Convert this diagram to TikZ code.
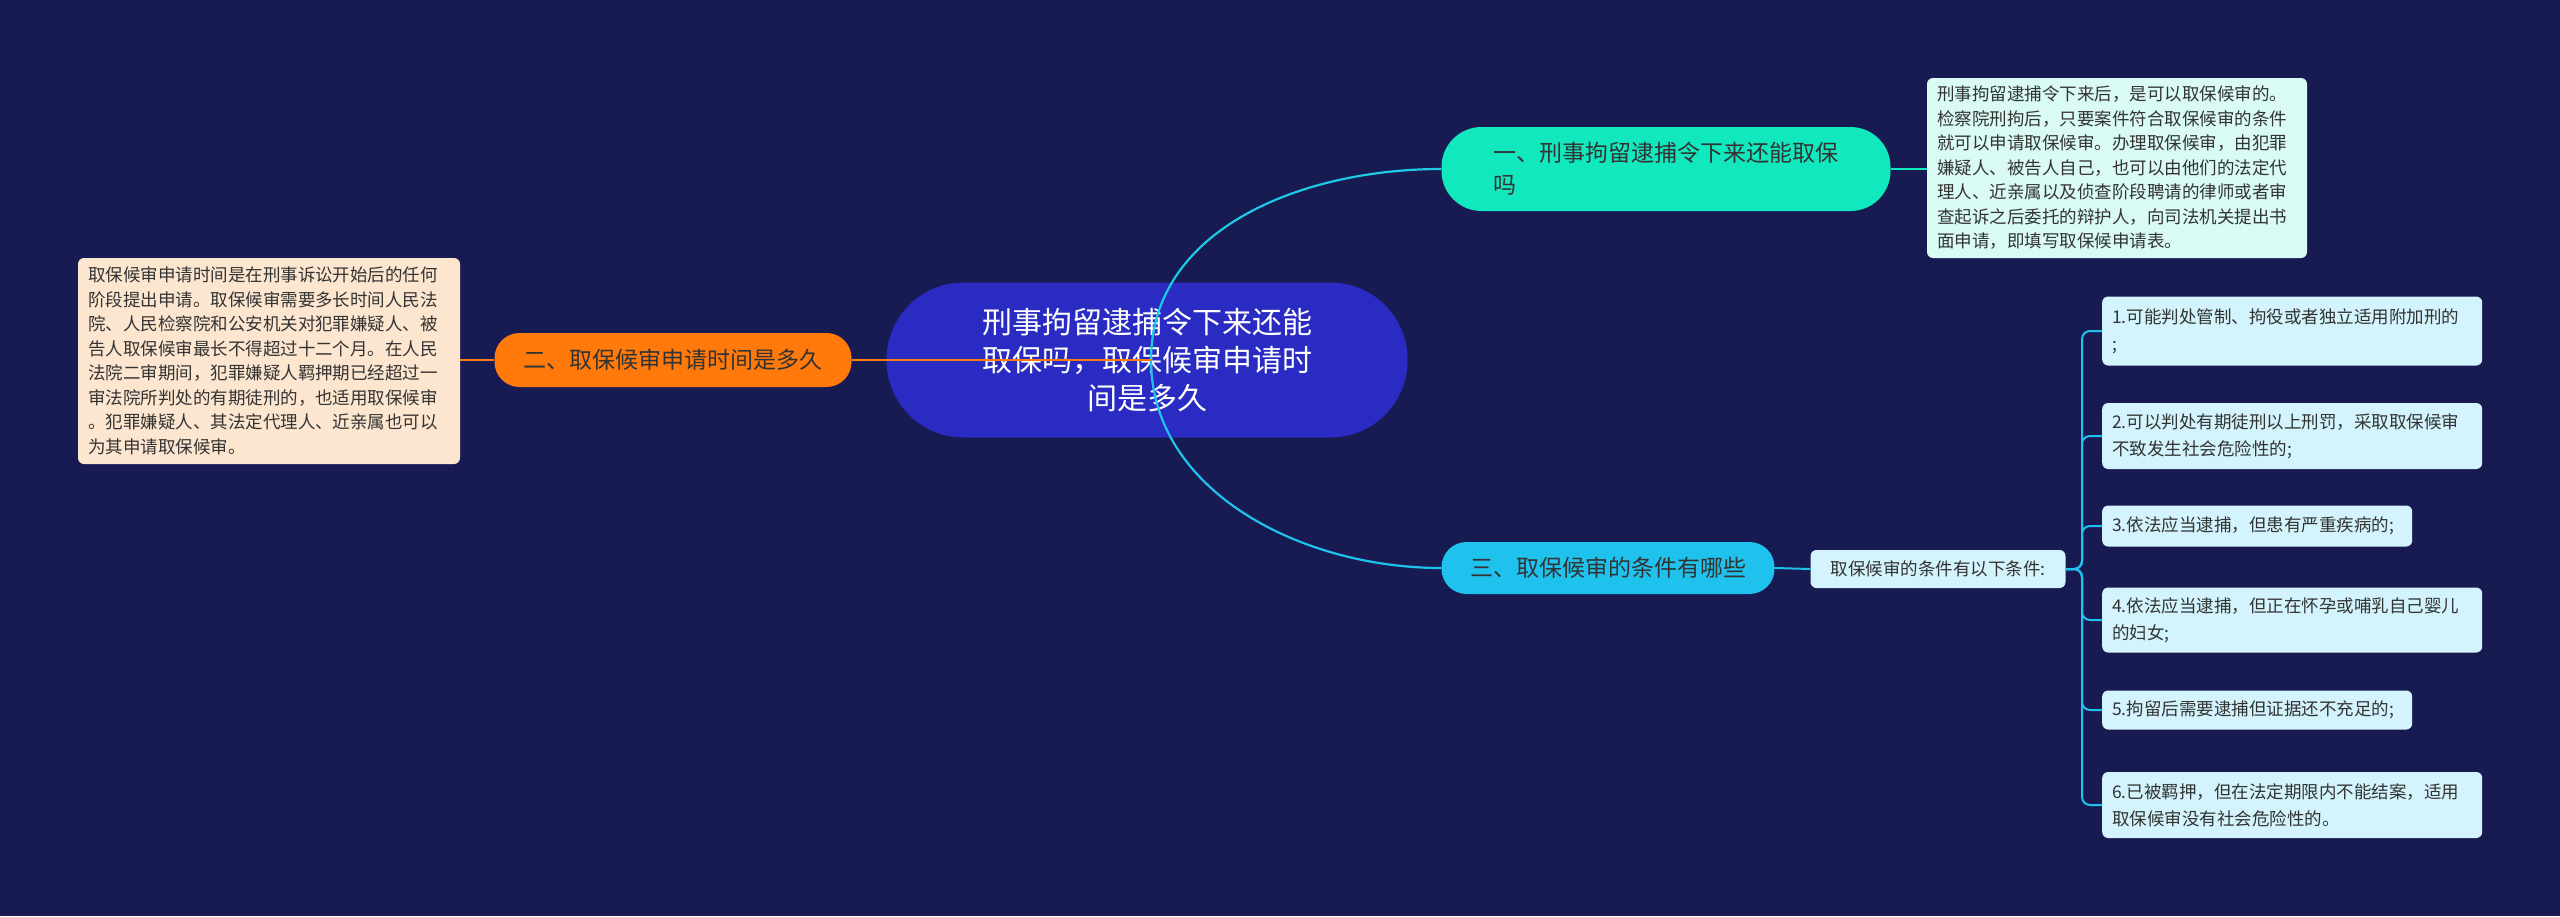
\documentclass[tikz,border=0pt]{standalone}
\usepackage{fontspec}
\setmainfont{Noto Sans CJK SC}
\begin{document}
\begin{tikzpicture}[x=1pt,y=-1pt,
 det/.style={rounded corners=6pt,anchor=center,align=left,inner xsep=10pt,inner ysep=6pt,font=\fontsize{17.5}{24.5}\selectfont,text=black!80},
 topic/.style={rounded corners=25pt,inner sep=0pt,text=black!80}]
\definecolor{bg}{HTML}{181A52}
\definecolor{cen}{HTML}{2A2BC2}
\definecolor{teal1}{HTML}{12E8BE}
\definecolor{org}{HTML}{FF7A0A}
\definecolor{cy}{HTML}{1EC2EC}
\definecolor{d1}{HTML}{D9FBF4}
\definecolor{d2}{HTML}{FDE6CF}
\definecolor{itemfill}{HTML}{D3F4FC}
\fill[bg] (0,0) rectangle (2560,916);
\useasboundingbox (0,0) rectangle (2560,916);
% center
\node[fill=cen,rounded corners=77pt,minimum width=521pt,minimum height=155pt,align=center,text=white,font=\fontsize{30}{38}\selectfont] (c) at (1147,360) {刑事拘留逮捕令下来还能\\取保吗，取保候审申请时\\间是多久};
\coordinate (cs) at (1151,360);
% topic nodes
\node[topic,fill=teal1,minimum width=449pt,minimum height=84pt,rounded corners=40pt,align=left,font=\fontsize{23}{32}\selectfont] (t1) at (1666,169) {一、刑事拘留逮捕令下来还能取保\\吗\phantom{刑事拘留逮捕令下来还能取保}};
\node[topic,fill=org,minimum width=357pt,minimum height=54pt,font=\fontsize{23}{30}\selectfont] (t2) at (673,360) {二、取保候审申请时间是多久};
\node[topic,fill=cy,minimum width=333pt,minimum height=52pt,font=\fontsize{23}{30}\selectfont] (t3) at (1608,568) {三、取保候审的条件有哪些};
% connectors
\draw[cy!80!teal1,line width=2.2pt] (cs) .. controls (1151,230) and (1300,169) .. (t1.west);
\draw[cy,line width=2.2pt] (cs) .. controls (1151,490) and (1300,568) .. (t3.west);
\draw[org,line width=2.2pt] (cs) -- (t2.east);
% details
\node[det,fill=d1,minimum width=380pt,minimum height=180pt,text width=360pt] (e1) at (2117,168) {刑事拘留逮捕令下来后，是可以取保候审的。\\检察院刑拘后，只要案件符合取保候审的条件\\就可以申请取保候审。办理取保候审，由犯罪\\嫌疑人、被告人自己，也可以由他们的法定代\\理人、近亲属以及侦查阶段聘请的律师或者审\\查起诉之后委托的辩护人，向司法机关提出书\\面申请，即填写取保候申请表。};
\draw[teal1,line width=2pt] (t1.east) -- (e1.west |- t1.east);
\node[det,fill=d2,minimum width=382pt,minimum height=206pt,text width=362pt] (e2) at (269,361) {取保候审申请时间是在刑事诉讼开始后的任何\\阶段提出申请。取保候审需要多长时间人民法\\院、人民检察院和公安机关对犯罪嫌疑人、被\\告人取保候审最长不得超过十二个月。在人民\\法院二审期间，犯罪嫌疑人羁押期已经超过一\\审法院所判处的有期徒刑的，也适用取保候审\\。犯罪嫌疑人、其法定代理人、近亲属也可以\\为其申请取保候审。};
\draw[org,line width=2pt] (t2.west) -- (e2.east |- t2.west);
% sub
\node[rounded corners=6pt,fill=itemfill,minimum width=255pt,minimum height=38pt,inner sep=0pt,font=\fontsize{17.5}{24}\selectfont,text=black!80] (s) at (1938,569) {取保候审的条件有以下条件:};
\draw[cy,line width=2pt] (t3.east) -- (s.west);
\tikzset{it/.style={rounded corners=6pt,fill=itemfill,anchor=west,align=left,inner xsep=10pt,inner ysep=0pt,font=\fontsize{17.5}{27}\selectfont,text=black!80}}
\node[it,minimum width=380pt,minimum height=69pt,text width=360pt] (i1) at (2102,331) {1.可能判处管制、拘役或者独立适用附加刑的\\;};
\node[it,minimum width=380pt,minimum height=66pt,text width=360pt] (i2) at (2102,436) {2.可以判处有期徒刑以上刑罚，采取取保候审\\不致发生社会危险性的;};
\node[it,minimum width=310pt,minimum height=41pt,text width=290pt] (i3) at (2102,526) {3.依法应当逮捕，但患有严重疾病的;};
\node[it,minimum width=380pt,minimum height=65pt,text width=360pt] (i4) at (2102,620) {4.依法应当逮捕，但正在怀孕或哺乳自己婴儿\\的妇女;};
\node[it,minimum width=310pt,minimum height=39pt,text width=290pt] (i5) at (2102,710) {5.拘留后需要逮捕但证据还不充足的;};
\node[it,minimum width=380pt,minimum height=66pt,text width=360pt] (i6) at (2102,805) {6.已被羁押，但在法定期限内不能结案，适用\\取保候审没有社会危险性的。};
\coordinate (b) at (2082,569);
\foreach \i in {1,...,6}{
 \draw[cy,line width=2pt,rounded corners=8pt] (s.east) -- (b) |- (i\i.west);
}
\end{tikzpicture}
\end{document}
